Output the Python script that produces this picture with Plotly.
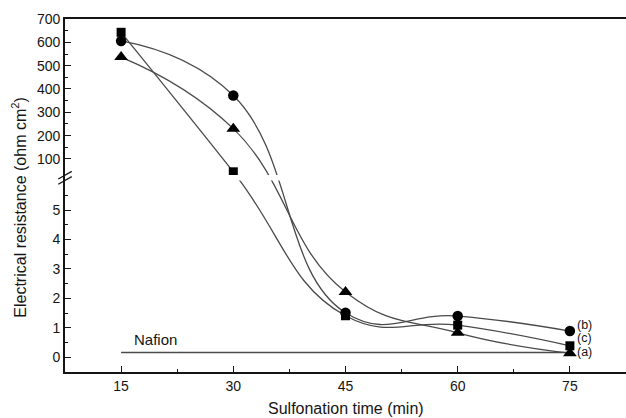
import plotly.graph_objects as go

# ---- data ----
times = [15, 30, 45, 60, 75]
res_a = [537, 230, 2.22, 0.83, 0.14]   # triangles (a)
res_b = [606, 372, 1.51, 1.40, 0.89]   # circles (b)
res_c = [643, 45, 1.41, 1.09, 0.39]    # squares (c)
nafion_x = [15, 75]
nafion_y = [0.16, 0.16]
lower_ticks = [0, 1, 2, 3, 4, 5]
upper_ticks = [100, 200, 300, 400, 500, 600, 700]
x_ticks = [15, 30, 45, 60, 75]

# ---- broken-axis transform (value -> axis coordinate) ----
LOW_TOP = 6.0
UP_REF_V = 100.0
UP_REF_D = 6.733
UP_SCALE = 0.007922  # axis units per value unit in upper segment


def disp(v):
    if v <= LOW_TOP + 0.5:
        return v
    return UP_REF_D + (v - UP_REF_V) * UP_SCALE


def disp_list(vals):
    return [disp(v) for v in vals]


line_col = "#4a4a4a"
ink = "#151515"
FONT = "Liberation Sans, Arial, sans-serif"

fig = go.Figure()

series = [
    (res_a, "triangle-up", 12),
    (res_b, "circle", 10.5),
    (res_c, "square", 9),
]
for vals, sym, size in series:
    fig.add_trace(go.Scatter(
        x=times, y=disp_list(vals), mode="lines",
        line=dict(color=line_col, width=1.3, shape="spline", smoothing=1.3),
        showlegend=False, hoverinfo="skip"))

fig.add_trace(go.Scatter(
    x=nafion_x, y=nafion_y, mode="lines",
    line=dict(color=line_col, width=1.4), showlegend=False))

# white gap band at axis break
y_top_upper = disp(700)
fig.add_shape(type="rect", xref="paper", yref="y", x0=0.004, x1=1.0,
              y0=LOW_TOP, y1=disp(31), fillcolor="white", line_width=0,
              layer="above")

for vals, sym, size in series:
    fig.add_trace(go.Scatter(
        x=times, y=disp_list(vals), mode="markers",
        marker=dict(symbol=sym, size=size, color="black"),
        showlegend=False))

# break marks on left axis
for dy in (-0.09, 0.09):
    yc = (LOW_TOP + disp(31)) / 2 + dy
    fig.add_shape(type="line", xref="paper", yref="y",
                  x0=-0.012, x1=0.012, y0=yc - 0.13, y1=yc + 0.13,
                  line=dict(color=ink, width=1.3), layer="above")

tickvals = disp_list(lower_ticks) + disp_list(upper_ticks)
ticktext = [str(t) for t in lower_ticks + upper_ticks]
minor_vals = [0.5, 1.5, 2.5, 3.5, 4.5, 5.5] + disp_list([150, 250, 350, 450, 550, 650])

fig.update_yaxes(
    range=[-0.5, y_top_upper], tickmode="array", tickvals=tickvals, ticktext=ticktext,
    ticks="inside", ticklen=6, tickwidth=1.4, tickcolor=ink,
    showline=True, linecolor=ink, linewidth=1.6, showgrid=False, zeroline=False,
    tickfont=dict(family=FONT, size=14, color=ink),
    minor=dict(tickmode="array", tickvals=minor_vals, ticks="inside", ticklen=3,
               tickwidth=1.2, tickcolor=ink, showgrid=False),
)
fig.update_xaxes(
    range=[7.5, 82.5], tickmode="array", tickvals=x_ticks,
    ticks="inside", ticklen=6, tickwidth=1.4, tickcolor=ink,
    showline=True, linecolor=ink, linewidth=1.6, mirror=True,
    showgrid=False, zeroline=False,
    tickfont=dict(family=FONT, size=14, color=ink),
    minor=dict(tickmode="array", tickvals=[22.5, 37.5, 52.5, 67.5], ticks="inside",
               ticklen=3, tickwidth=1.2, tickcolor=ink, showgrid=False),
)

annos = [
    dict(x=16.4, y=0.6, text="Nafion", xanchor="left", yanchor="middle",
         font=dict(family=FONT, size=15, color=ink)),
    dict(x=75.7, y=1.10, text="(b)", xanchor="left", yanchor="middle",
         font=dict(family=FONT, size=12.5, color=ink)),
    dict(x=75.7, y=0.65, text="(c)", xanchor="left", yanchor="middle",
         font=dict(family=FONT, size=12.5, color=ink)),
    dict(x=75.7, y=0.18, text="(a)", xanchor="left", yanchor="middle",
         font=dict(family=FONT, size=12.5, color=ink)),
    dict(xref="paper", yref="paper", x=0.5, y=-0.102, yanchor="middle",
         text="Sulfonation time (min)", font=dict(family=FONT, size=16, color=ink)),
    dict(xref="paper", yref="paper", x=-0.081, y=0.467, xanchor="center", yanchor="middle",
         textangle=-90, text="Electrical resistance (ohm cm<sup>2</sup>)",
         font=dict(family=FONT, size=16, color=ink)),
]
for a in annos:
    fig.add_annotation(showarrow=False, **a)

fig.update_layout(
    width=626, height=418,
    margin=dict(l=65, r=0, t=19, b=46),
    plot_bgcolor="white", paper_bgcolor="white",
)

fig.write_html("out.html", config={"displayModeBar": False},
               post_script="document.body.style.margin='0';")
